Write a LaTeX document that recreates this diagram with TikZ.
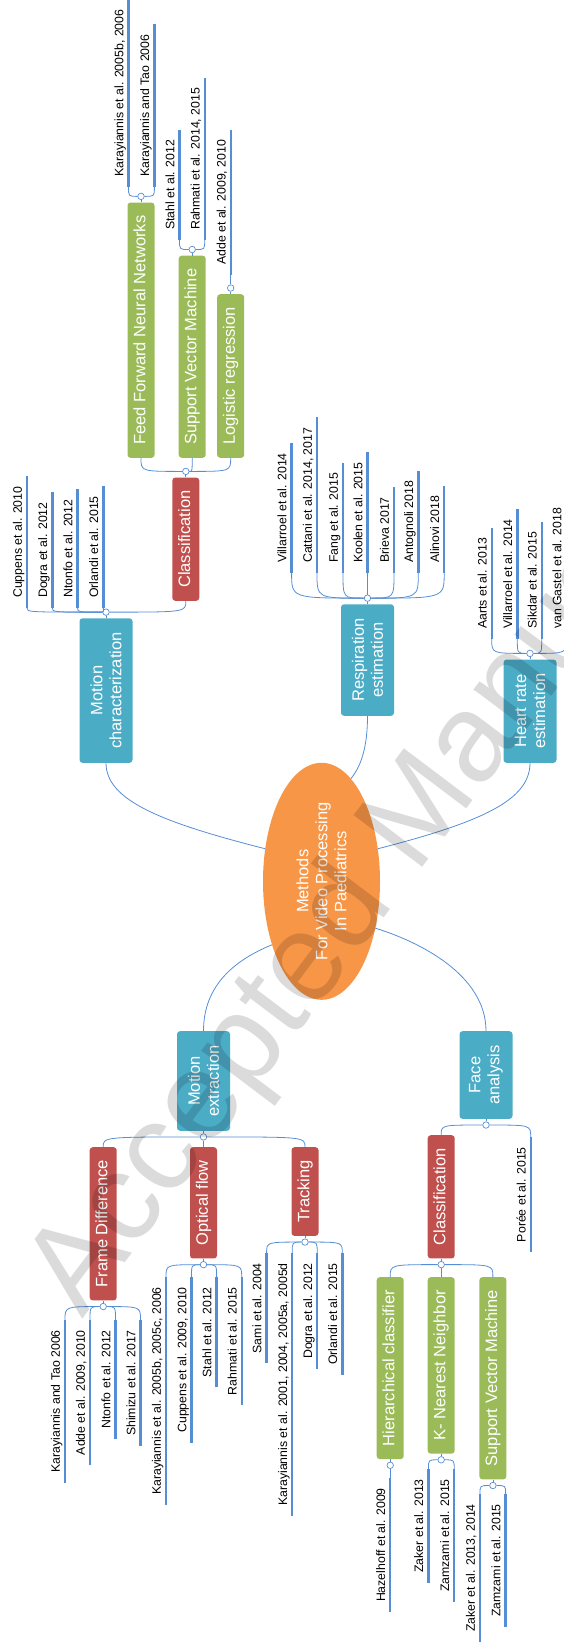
\documentclass[tikz,border=0pt]{standalone}
\usepackage{fontspec}
\setmainfont{Liberation Sans}
\usetikzlibrary{shapes.geometric}

\definecolor{hubor}{RGB}{247,150,70}
\definecolor{areablue}{RGB}{75,172,198}
\definecolor{stepred}{RGB}{192,80,77}
\definecolor{algogreen}{RGB}{155,187,89}
\definecolor{linkblue}{RGB}{85,142,213}

\begin{document}
\begin{tikzpicture}[x=1pt, y=-1pt,
    hub/.style={ellipse, rotate=90, fill=hubor, text=white, align=center, inner sep=0pt,
        minimum width=237pt, minimum height=117pt, font=\fontsize{16.5}{19}\selectfont},
    area/.style={rotate=90, fill=areablue, rounded corners=3pt, text=white, align=center,
        inner xsep=14pt, inner ysep=0pt, minimum height=53pt, font=\fontsize{16.5}{19}\selectfont},
    stage/.style={rotate=90, fill=stepred, rounded corners=3pt, text=white,
        inner xsep=13pt, inner ysep=0pt, minimum height=27pt, text height=12pt, text depth=3.5pt,
        font=\fontsize{16.5}{19}\selectfont},
    algo/.style={stage, fill=algogreen},
    paper/.style={rotate=90, inner xsep=10pt, inner ysep=2pt, text height=9.5pt, text depth=3pt,
        font=\fontsize{12.3}{14}\selectfont},
    knob/.style={circle, draw=linkblue, fill=white, line width=0.7pt, inner sep=0pt, minimum size=6.5pt},
    twig/.style={draw=linkblue, line width=0.8pt},
    citebar/.style={draw=linkblue, line width=2.4pt}]

    \useasboundingbox (0,0) rectangle (563,1644);

    % Nodes
    \node (hub) [hub] at (321.5,881.3) {Methods\\For Video Processing\\In Paediatrics};

    \node (mc) [area, anchor=west] at (106,763) {Motion\\characterization};
    \node (re) [area, anchor=west] at (367.5,716) {Respiration\\estimation};
    \node (hr) [area, anchor=west] at (530,763) {Heart rate\\estimation};
    \node (me) [area, anchor=east] at (203.5,1031) {Motion\\extraction};
    \node (fa) [area, anchor=east] at (486,1031) {Face\\analysis};

    \node (mcc) [stage, anchor=west] at (185.8,601) {Classification};
    \node (ff) [algo, anchor=west] at (141,458) {Feed Forward Neural Networks};
    \node (sv) [algo, anchor=west] at (192.2,458) {Support Vector Machine};
    \node (lr) [algo, anchor=west] at (230.7,458) {Logistic regression};

    \node (fd) [stage, anchor=east] at (103.2,1147) {Frame Difference};
    \node (of) [stage, anchor=east] at (203.5,1147) {Optical flow};
    \node (tr) [stage, anchor=east] at (305,1147) {Tracking};
    \node (fc) [stage, anchor=east] at (441.2,1135) {Classification};
    \node (hc) [algo, anchor=east] at (390.2,1277) {Hierarchical classifier};
    \node (kn) [algo, anchor=east] at (441.2,1277) {K- Nearest Neighbor};
    \node (sm) [algo, anchor=east] at (492.9,1277) {Support Vector Machine};

    % Knobs
    \node (mcdot) [knob] at ([yshift=6pt]mc.east) {};
    \node (redot) [knob] at ([yshift=6pt]re.east) {};
    \node (hrdot) [knob] at ([yshift=6pt]hr.east) {};
    \node (mccdot) [knob] at ([yshift=6pt]mcc.east) {};
    \node (ffdot) [knob] at ([yshift=6pt]ff.east) {};
    \node (svdot) [knob] at ([yshift=6pt]sv.east) {};
    \node (lrdot) [knob] at ([yshift=6pt]lr.east) {};
    \node (medot) [knob] at ([yshift=-6pt]me.west) {};
    \node (fadot) [knob] at ([yshift=-6pt]fa.west) {};
    \node (fddot) [knob] at ([yshift=-6pt]fd.west) {};
    \node (ofdot) [knob] at ([yshift=-6pt]of.west) {};
    \node (trdot) [knob] at ([yshift=-6pt]tr.west) {};
    \node (fcdot) [knob] at ([yshift=-6pt]fc.west) {};
    \node (hcdot) [knob] at ([yshift=-6pt]hc.west) {};
    \node (kndot) [knob] at ([yshift=-6pt]kn.west) {};
    \node (smdot) [knob] at ([yshift=-6pt]sm.west) {};

    % Papers
    \node (mc1) [paper, anchor=south west] at (27,608) {Cuppens et al. 2010};
    \node (mc2) [paper, anchor=south west] at (52.4,608) {Dogra et al. 2012};
    \node (mc3) [paper, anchor=south west] at (77.6,608) {Ntonfo et al. 2012};
    \node (mc4) [paper, anchor=south west] at (103.4,608) {Orlandi et al. 2015};

    \node (ff1) [paper, anchor=south west] at (128.5,187) {Karayiannis et al. 2005b, 2006};
    \node (ff2) [paper, anchor=south west] at (154.4,187) {Karayiannis and Tao 2006};
    \node (sv1) [paper, anchor=south west] at (179.5,240) {Stahl et al. 2012};
    \node (sv2) [paper, anchor=south west] at (204.7,240) {Rahmati et al. 2014, 2015};
    \node (lr1) [paper, anchor=south west] at (230.7,275) {Adde et al. 2009, 2010};

    \node (re1) [paper, anchor=south west] at (291.6,573) {Villarroel et al. 2014};
    \node (re2) [paper, anchor=south west] at (317,573) {Cattani et al. 2014, 2017};
    \node (re3) [paper, anchor=south west] at (343,573) {Fang et al. 2015};
    \node (re4) [paper, anchor=south west] at (367.5,573) {Koolen et al. 2015};
    \node (re5) [paper, anchor=south west] at (394,573) {Brieva 2017};
    \node (re6) [paper, anchor=south west] at (418.3,573) {Antognoli 2018};
    \node (re7) [paper, anchor=south west] at (444.2,573) {Alinovi 2018};

    \node (hr1) [paper, anchor=south west] at (491.7,639) {Aarts et al. 2013};
    \node (hr2) [paper, anchor=south west] at (517.3,639) {Villarroel et al. 2014};
    \node (hr3) [paper, anchor=south west] at (541.7,639) {Sikdar et al. 2015};
    \node (hr4) [paper, anchor=south west] at (566.5,639) {van Gastel et al. 2018};

    \node (fd1) [paper, anchor=south east] at (65,1320) {Karayiannis and Tao 2006};
    \node (fd2) [paper, anchor=south east] at (90,1320) {Adde et al. 2009, 2010};
    \node (fd3) [paper, anchor=south east] at (115.5,1320) {Ntonfo et al. 2012};
    \node (fd4) [paper, anchor=south east] at (140.5,1320) {Shimizu et al. 2017};

    \node (of1) [paper, anchor=south east] at (166,1277) {Karayiannis et al. 2005b, 2005c, 2006};
    \node (of2) [paper, anchor=south east] at (191.5,1277) {Cuppens et al. 2009, 2010};
    \node (of3) [paper, anchor=south east] at (216.6,1277) {Stahl et al. 2012};
    \node (of4) [paper, anchor=south east] at (241.7,1277) {Rahmati et al. 2015};

    \node (tr1) [paper, anchor=south east] at (266.6,1253) {Sami et al. 2004};
    \node (tr2) [paper, anchor=south east] at (292.2,1253) {Karayiannis et al. 2001, 2004, 2005a, 2005d};
    \node (tr3) [paper, anchor=south east] at (317.2,1253) {Dogra et al. 2012};
    \node (tr4) [paper, anchor=south east] at (342.3,1253) {Orlandi et al. 2015};

    \node (fa1) [paper, anchor=south east] at (530.7,1137) {Porée et al. 2015};
    \node (hc1) [paper, anchor=south east] at (390.2,1478) {Hazelhoff et al. 2009};
    \node (kn1) [paper, anchor=south east] at (428.4,1469) {Zaker et al. 2013};
    \node (kn2) [paper, anchor=south east] at (454.2,1469) {Zamzami et al. 2015};
    \node (sm1) [paper, anchor=south east] at (480,1494) {Zaker et al. 2013, 2014};
    \node (sm2) [paper, anchor=south east] at (505.6,1494) {Zamzami et al. 2015};

    % Edges from the hub
    \draw[twig] (mc.west) .. controls (106,800) and (160,822) .. (hub.60);
    \draw[twig] (re.west) .. controls (367.5,745) and (362,765) .. (hub.-16);
    \draw[twig] (hr.west) .. controls (530,800) and (482,822) .. (hub.-60);
    \draw[twig] (hub.142) .. controls (235,960) and (203.5,985) .. (me.east);
    \draw[twig] (hub.-131.8) .. controls (420,942) and (486,975) .. (fa.east);

    % Box to knob
    \draw[twig] (mc) -- (mcdot);
    \draw[twig] (re) -- (redot);
    \draw[twig] (hr) -- (hrdot);
    \draw[twig] (mcc) -- (mccdot);
    \draw[twig] (ff) -- (ffdot);
    \draw[twig] (sv) -- (svdot);
    \draw[twig] (lr) -- (lrdot);
    \draw[twig] (me) -- (medot);
    \draw[twig] (fa) -- (fadot);
    \draw[twig] (fd) -- (fddot);
    \draw[twig] (of) -- (ofdot);
    \draw[twig] (tr) -- (trdot);
    \draw[twig] (fc) -- (fcdot);
    \draw[twig] (hc) -- (hcdot);
    \draw[twig] (kn) -- (kndot);
    \draw[twig] (sm) -- (smdot);

    % Knob to children
    \draw[twig] (mcdot) .. controls (mcdot -| mc1.south west) .. (mc1.south west);
    \draw[twig] (mcdot) .. controls (mcdot -| mc2.south west) .. (mc2.south west);
    \draw[twig] (mcdot) .. controls (mcdot -| mc3.south west) .. (mc3.south west);
    \draw[twig] (mcdot) .. controls (mcdot -| mc4.south west) .. (mc4.south west);
    \draw[twig] (mcdot) .. controls (mcdot -| mcc.west) .. (mcc.west);

    \draw[twig] (mccdot) .. controls (mccdot -| ff.west) .. (ff.west);
    \draw[twig] (mccdot) .. controls (mccdot -| sv.west) .. (sv.west);
    \draw[twig] (mccdot) .. controls (mccdot -| lr.west) .. (lr.west);

    \draw[twig] (ffdot) .. controls (ffdot -| ff1.south west) .. (ff1.south west);
    \draw[twig] (ffdot) .. controls (ffdot -| ff2.south west) .. (ff2.south west);
    \draw[twig] (svdot) .. controls (svdot -| sv1.south west) .. (sv1.south west);
    \draw[twig] (svdot) .. controls (svdot -| sv2.south west) .. (sv2.south west);
    \draw[twig] (lrdot) -- (lr1.south west);

    \draw[twig] (redot) .. controls (redot -| re1.south west) .. (re1.south west);
    \draw[twig] (redot) .. controls (redot -| re2.south west) .. (re2.south west);
    \draw[twig] (redot) .. controls (redot -| re3.south west) .. (re3.south west);
    \draw[twig] (redot) -- (re4.south west);
    \draw[twig] (redot) .. controls (redot -| re5.south west) .. (re5.south west);
    \draw[twig] (redot) .. controls (redot -| re6.south west) .. (re6.south west);
    \draw[twig] (redot) .. controls (redot -| re7.south west) .. (re7.south west);

    \draw[twig] (hrdot) .. controls (hrdot -| hr1.south west) .. (hr1.south west);
    \draw[twig] (hrdot) .. controls (hrdot -| hr2.south west) .. (hr2.south west);
    \draw[twig] (hrdot) .. controls (hrdot -| hr3.south west) .. (hr3.south west);
    \draw[twig] (hrdot) .. controls (hrdot -| hr4.south west) .. (hr4.south west);

    \draw[twig] (medot) .. controls (medot -| fd.east) .. (fd.east);
    \draw[twig] (medot) -- (of.east);
    \draw[twig] (medot) .. controls (medot -| tr.east) .. (tr.east);

    \draw[twig] (fddot) .. controls (fddot -| fd1.south east) .. (fd1.south east);
    \draw[twig] (fddot) .. controls (fddot -| fd2.south east) .. (fd2.south east);
    \draw[twig] (fddot) .. controls (fddot -| fd3.south east) .. (fd3.south east);
    \draw[twig] (fddot) .. controls (fddot -| fd4.south east) .. (fd4.south east);

    \draw[twig] (ofdot) .. controls (ofdot -| of1.south east) .. (of1.south east);
    \draw[twig] (ofdot) .. controls (ofdot -| of2.south east) .. (of2.south east);
    \draw[twig] (ofdot) .. controls (ofdot -| of3.south east) .. (of3.south east);
    \draw[twig] (ofdot) .. controls (ofdot -| of4.south east) .. (of4.south east);

    \draw[twig] (trdot) .. controls (trdot -| tr1.south east) .. (tr1.south east);
    \draw[twig] (trdot) .. controls (trdot -| tr2.south east) .. (tr2.south east);
    \draw[twig] (trdot) .. controls (trdot -| tr3.south east) .. (tr3.south east);
    \draw[twig] (trdot) .. controls (trdot -| tr4.south east) .. (tr4.south east);

    \draw[twig] (fadot) .. controls (fadot -| fc.east) .. (fc.east);
    \draw[twig] (fadot) .. controls (fadot -| fa1.south east) .. (fa1.south east);

    \draw[twig] (fcdot) .. controls (fcdot -| hc.east) .. (hc.east);
    \draw[twig] (fcdot) -- (kn.east);
    \draw[twig] (fcdot) .. controls (fcdot -| sm.east) .. (sm.east);

    \draw[twig] (hcdot) -- (hc1.south east);
    \draw[twig] (kndot) .. controls (kndot -| kn1.south east) .. (kn1.south east);
    \draw[twig] (kndot) .. controls (kndot -| kn2.south east) .. (kn2.south east);
    \draw[twig] (smdot) .. controls (smdot -| sm1.south east) .. (sm1.south east);
    \draw[twig] (smdot) .. controls (smdot -| sm2.south east) .. (sm2.south east);

    % Bars beside the papers
    \draw[citebar] (mc1.south west) -- (mc1.south east);
    \draw[citebar] (mc2.south west) -- (mc2.south east);
    \draw[citebar] (mc3.south west) -- (mc3.south east);
    \draw[citebar] (mc4.south west) -- (mc4.south east);
    \draw[citebar] (ff1.south west) -- (ff1.south east);
    \draw[citebar] (ff2.south west) -- (ff2.south east);
    \draw[citebar] (sv1.south west) -- (sv1.south east);
    \draw[citebar] (sv2.south west) -- (sv2.south east);
    \draw[citebar] (lr1.south west) -- (lr1.south east);
    \draw[citebar] (re1.south west) -- (re1.south east);
    \draw[citebar] (re2.south west) -- (re2.south east);
    \draw[citebar] (re3.south west) -- (re3.south east);
    \draw[citebar] (re4.south west) -- (re4.south east);
    \draw[citebar] (re5.south west) -- (re5.south east);
    \draw[citebar] (re6.south west) -- (re6.south east);
    \draw[citebar] (re7.south west) -- (re7.south east);
    \draw[citebar] (hr1.south west) -- (hr1.south east);
    \draw[citebar] (hr2.south west) -- (hr2.south east);
    \draw[citebar] (hr3.south west) -- (hr3.south east);
    \draw[citebar] (hr4.south west) -- (hr4.south east);
    \draw[citebar] (fd1.south west) -- (fd1.south east);
    \draw[citebar] (fd2.south west) -- (fd2.south east);
    \draw[citebar] (fd3.south west) -- (fd3.south east);
    \draw[citebar] (fd4.south west) -- (fd4.south east);
    \draw[citebar] (of1.south west) -- (of1.south east);
    \draw[citebar] (of2.south west) -- (of2.south east);
    \draw[citebar] (of3.south west) -- (of3.south east);
    \draw[citebar] (of4.south west) -- (of4.south east);
    \draw[citebar] (tr1.south west) -- (tr1.south east);
    \draw[citebar] (tr2.south west) -- (tr2.south east);
    \draw[citebar] (tr3.south west) -- (tr3.south east);
    \draw[citebar] (tr4.south west) -- (tr4.south east);
    \draw[citebar] (fa1.south west) -- (fa1.south east);
    \draw[citebar] (hc1.south west) -- (hc1.south east);
    \draw[citebar] (kn1.south west) -- (kn1.south east);
    \draw[citebar] (kn2.south west) -- (kn2.south east);
    \draw[citebar] (sm1.south west) -- (sm1.south east);
    \draw[citebar] (sm2.south west) -- (sm2.south east);

    % Watermark
    \node (wm) [rotate=53, anchor=base west, text=black, text opacity=0.14,
        font=\fontsize{125}{125}\selectfont] at (80,1322) {Accepted Manuscript};
\end{tikzpicture}
\end{document}
